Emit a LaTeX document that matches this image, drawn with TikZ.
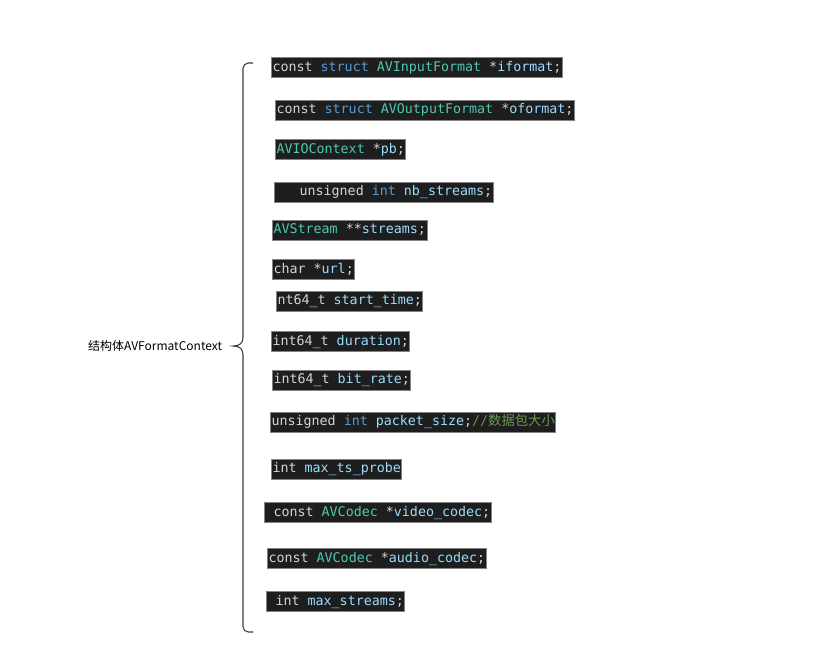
\documentclass[tikz,border=0pt]{standalone}
\usepackage{fontspec}
\usepackage{xcolor}
\usepackage{tikz}
\usetikzlibrary{positioning}
\setmonofont{DejaVu Sans Mono}
\newfontfamily\cjk{Noto Sans CJK SC}
\definecolor{codebg}{RGB}{30,30,30}
\definecolor{codeedge}{RGB}{130,130,130}
\definecolor{plainkw}{RGB}{212,212,212}
\definecolor{bluekw}{RGB}{86,156,214}
\definecolor{typeteal}{RGB}{78,201,176}
\definecolor{identblue}{RGB}{156,220,254}
\definecolor{cmtgreen}{RGB}{106,153,85}
\definecolor{bracegray}{RGB}{60,60,60}
\newcommand{\tokw}[1]{\textcolor{plainkw}{#1}}
\newcommand{\tokb}[1]{\textcolor{bluekw}{#1}}
\newcommand{\tokt}[1]{\textcolor{typeteal}{#1}}
\newcommand{\toki}[1]{\textcolor{identblue}{#1}}
\newcommand{\tokc}[1]{\textcolor{cmtgreen}{#1}}

\begin{document}
\begin{tikzpicture}[
    x=0.75pt,y=-0.75pt,
    code/.style={draw=codeedge,line width=0.75pt,fill=codebg,anchor=west,
      inner xsep=0.75pt,inner ysep=0pt,minimum height=15pt,yshift=-1.1pt,
      text height=7.6pt,text depth=2.4pt,font=\ttfamily\fontsize{10}{12}\selectfont,
      text=plainkw},
    brace/.style={draw=bracegray,line width=0.8pt},
    ctxlabel/.style={inner sep=0pt,font=\cjk\fontsize{9}{11}\selectfont}
  ]
    \useasboundingbox[fill=white] (0,0) rectangle (827,651);
    % struct members
    \node[code] (ifmt) at (271,66.5) {\tokw{const} \tokb{struct} \tokt{AVInputFormat} *\toki{iformat};};
    \node[code] (ofmt) at (275,109) {\tokw{const} \tokb{struct} \tokt{AVOutputFormat} *\toki{oformat};};
    \node[code] (pb) at (275,148.5) {\tokt{AVIOContext} *\toki{pb};};
    \node[code] (nbst) at (274,191) {\ \ \ \tokw{unsigned} \tokb{int} \toki{nb\_streams};};
    \node[code] (streams) at (272,229) {\tokt{AVStream} **\toki{streams};};
    \node[code] (url) at (272,268.5) {\tokw{char} *\toki{url};};
    \node[code] (start) at (276,300) {\tokw{nt64\_t} \toki{start\_time};};
    \node[code] (dur) at (271,340.5) {\tokw{int64\_t} \toki{duration};};
    \node[code] (brate) at (272,379) {\tokw{int64\_t} \toki{bit\_rate};};
    \node[code] (pktsz) at (270,421) {\tokw{unsigned} \tokb{int} \toki{packet\_size};\tokc{//{\cjk 数据包大小}}};
    \node[code] (maxts) at (271,468) {\tokw{int} \toki{max\_ts\_probe}};
    \node[code] (vcodec) at (264,511.5) {\ \tokw{const} \tokt{AVCodec} *\toki{video\_codec};};
    \node[code] (acodec) at (267,557.5) {\tokw{const} \tokt{AVCodec} *\toki{audio\_codec};};
    \node[code] (maxst) at (266,600.5) {\ \tokw{int} \toki{max\_streams};};
    % brace and label
    \coordinate (tip) at (233,346);
    \node[ctxlabel,left=8pt of tip] (ctx) {结构体AVFormatContext};
    \draw[brace,rounded corners=4pt] (253,63) -- (243,63) -- (243,337);
    \draw[brace] (243,337) .. controls (243,343) and (240,346) .. (tip)
      .. controls (240,346) and (243,349) .. (243,355);
    \draw[brace,rounded corners=4pt] (243,355) -- (243,632) -- (253,632);
\end{tikzpicture}
\end{document}
